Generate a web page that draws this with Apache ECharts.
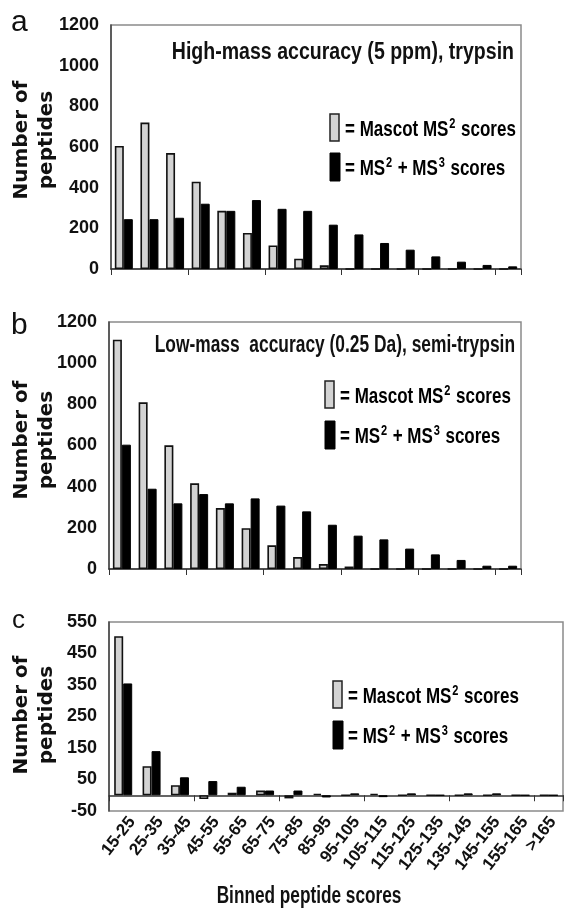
<!DOCTYPE html>
<html>
<head>
<meta charset="utf-8">
<script src="https://cdn.jsdelivr.net/npm/echarts@6/dist/echarts.min.js"></script>
<style>
html,body{margin:0;padding:0;background:#fff;}
#chart{width:567px;height:909px;}
</style>
</head>
<body>
<div id="chart"></div>
<script>
const categories = ['15-25','25-35','35-45','45-55','55-65','65-75','75-85','85-95','95-105','105-115','115-125','125-135','135-145','145-155','155-165','>165'];

const mascotA = [605, 720, 570, 429, 286, 177, 116, 51, 18, 0, 0, 0, 0, 0, 0, 0];
const combinedA = [245, 245, 252, 321, 286, 339, 296, 286, 218, 170, 128, 95, 62, 36, 20, 13];

const mascotB = [1114, 810, 601, 416, 296, 198, 115, 58, 24, 12, 0, 0, 0, 0, 0, 0];
const combinedB = [604, 390, 319, 364, 319, 343, 308, 280, 215, 162, 144, 99, 71, 44, 16, 16];

const mascotC = [505, 92, 32, -12, 8, 15, -10, 5, 0, 5, 0, 0, 0, 0, 0, 0];
const combinedC = [355, 140, 57, 45, 27, 15, 15, -7, 6, -6, 6, 0, 6, 6, 0, 0];

const ticksAB = [0, 200, 400, 600, 800, 1000, 1200];
const ticksC = [-50, 50, 150, 250, 350, 450, 550];

const panelLetters = ['a', 'b', 'c'];
const panelTitles = ['High-mass accuracy (5 ppm), trypsin', 'Low-mass  accuracy (0.25 Da), semi-trypsin'];
const yTitle = 'Number of\npeptides';
const xTitle = 'Binned peptide scores';
const legendNames = ['Mascot MS2 scores', 'MS2 + MS3 scores'];

const SANS = '"Liberation Sans", Arial, sans-serif';
const WIDE = '"DejaVu Sans", "Liberation Sans", sans-serif';
const GREY = '#d3d3d3';
const INK = '#111';

const chart = echarts.init(document.getElementById('chart'), null, {renderer: 'canvas'});

const grids = [
  {left: 111, right: 46, top: 25, height: 244, show: true},
  {left: 109, right: 46, top: 322, height: 247, show: true},
  {left: 109, right: 4, top: 622, height: 189, show: true},
  // label carrier for panel c (same width, nudged right like the original's slanted labels)
  {left: 118, right: -5, top: 622, height: 189, show: false}
].map(g => Object.assign({borderColor: '#8a8a8a', borderWidth: 1.5, backgroundColor: 'transparent', containLabel: false}, g));

function xAxisBase(gi) {
  return {
    type: 'category', gridIndex: gi, data: categories, boundaryGap: true,
    axisLine: {onZero: true, lineStyle: {color: '#333', width: 1.5}},
    axisTick: {show: true, inside: false, length: 6, lineStyle: {color: '#333', width: 1}},
    axisLabel: {show: false}
  };
}
const xAxes = [xAxisBase(0), xAxisBase(1), xAxisBase(2),
  {
    type: 'category', gridIndex: 3, data: categories, position: 'bottom', boundaryGap: true,
    axisLine: {show: false, onZero: false}, axisTick: {show: false},
    axisLabel: {show: true, interval: 0, rotate: 52, margin: 8, fontFamily: SANS, fontWeight: 'bold', fontSize: 17, color: INK}
  }
];

function yAxisBase(gi, min, max, interval) {
  return {
    type: 'value', gridIndex: gi, min: min, max: max, interval: interval,
    splitLine: {show: false},
    axisLine: {show: true, lineStyle: {color: '#444', width: 1.5}},
    axisTick: {show: false},
    axisLabel: {fontFamily: SANS, fontWeight: 'bold', fontSize: 18, color: INK, margin: 12, formatter: v => String(v)}
  };
}
const yAxes = [
  yAxisBase(0, ticksAB[0], ticksAB[ticksAB.length - 1], ticksAB[1] - ticksAB[0]),
  yAxisBase(1, ticksAB[0], ticksAB[ticksAB.length - 1], ticksAB[1] - ticksAB[0]),
  yAxisBase(2, ticksC[0], ticksC[ticksC.length - 1], ticksC[1] - ticksC[0]),
  {type: 'value', gridIndex: 3, min: ticksC[0], max: ticksC[ticksC.length - 1], show: false}
];

function barPair(gi, grey, black) {
  return [
    {type: 'bar', name: legendNames[0], xAxisIndex: gi, yAxisIndex: gi, data: grey, barWidth: 9, barGap: '0%',
     itemStyle: {color: GREY, borderColor: '#111', borderWidth: 1.6}, animation: false},
    {type: 'bar', name: legendNames[1], xAxisIndex: gi, yAxisIndex: gi, data: black, barWidth: 9, barGap: '0%',
     itemStyle: {color: '#000', borderColor: '#000', borderWidth: 1}, animation: false}
  ];
}
const series = [].concat(barPair(0, mascotA, combinedA), barPair(1, mascotB, combinedB), barPair(2, mascotC, combinedC));

const richLegend = {
  t: {fontFamily: SANS, fontWeight: 'bold', fontSize: 20, color: INK, verticalAlign: 'bottom', lineHeight: 24},
  s: {fontFamily: SANS, fontWeight: 'bold', fontSize: 13, color: INK, verticalAlign: 'bottom', padding: [0, 1, 9, 1]}
};

function legendGroup(x, y1, y2) {
  return [
    {type: 'rect', shape: {x: x, y: y1 - 13, width: 9, height: 27}, style: {fill: GREY, stroke: '#222', lineWidth: 1.5}},
    {type: 'rect', shape: {x: x, y: y2 - 13, width: 10, height: 28}, style: {fill: '#000', stroke: '#000', lineWidth: 1}},
    {type: 'text', x: x + 15, y: y1 + 1, scaleX: 0.85, scaleY: 1.08,
     style: {text: '{t|= Mascot MS}{s|2}{t| scores}', rich: richLegend, verticalAlign: 'middle', align: 'left'}},
    {type: 'text', x: x + 15, y: y2 + 1, scaleX: 0.85, scaleY: 1.08,
     style: {text: '{t|= MS}{s|2}{t| + MS}{s|3}{t| scores}', rich: richLegend, verticalAlign: 'middle', align: 'left'}}
  ];
}

function yTitleText(cx, cy) {
  return {type: 'text', x: cx, y: cy, rotation: Math.PI / 2,
    style: {text: yTitle, fontFamily: WIDE, fontWeight: 'bold', fontSize: 20, lineHeight: 25, fill: INK, align: 'center', verticalAlign: 'middle'}};
}

function letter(txt, x, y, size) {
  return {type: 'text', x: x, y: y, style: {text: txt, fontFamily: SANS, fontSize: size, fill: INK, align: 'left', verticalAlign: 'bottom'}};
}

const graphics = [
  letter(panelLetters[0], 11, 38, 30),
  letter(panelLetters[1], 11, 341, 30),
  letter(panelLetters[2], 12, 634, 26),
  {type: 'text', x: 514, y: 52, scaleX: 0.85, scaleY: 1.08,
   style: {text: panelTitles[0], fontFamily: SANS, fontWeight: 'bold', fontSize: 23, fill: INK, align: 'right', verticalAlign: 'middle'}},
  {type: 'text', x: 515, y: 345, scaleX: 0.79, scaleY: 1.08,
   style: {text: panelTitles[1], fontFamily: SANS, fontWeight: 'bold', fontSize: 22, fill: INK, align: 'right', verticalAlign: 'middle'}},
  yTitleText(34, 140),
  yTitleText(34, 440),
  yTitleText(34, 715),
  {type: 'text', x: 309, y: 897, scaleX: 0.82, scaleY: 1.12,
   style: {text: xTitle, fontFamily: SANS, fontWeight: 'bold', fontSize: 21, fill: INK, align: 'center', verticalAlign: 'middle'}}
].concat(legendGroup(330, 127, 166), legendGroup(325, 394, 434), legendGroup(333, 694, 734));

chart.setOption({
  animation: false,
  backgroundColor: '#fff',
  grid: grids,
  xAxis: xAxes,
  yAxis: yAxes,
  series: series,
  graphic: graphics
});
</script>
</body>
</html>
